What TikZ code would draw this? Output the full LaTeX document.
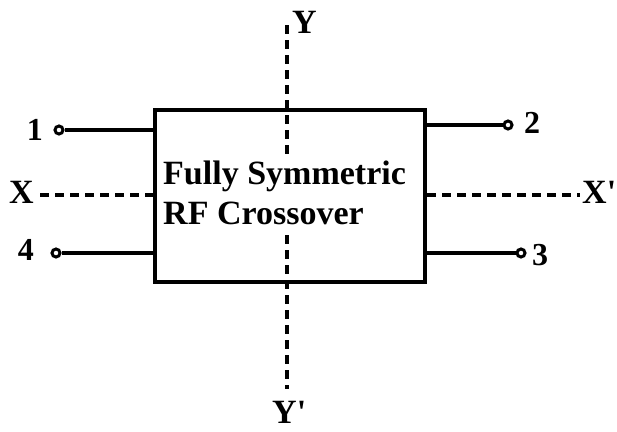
\documentclass[tikz,border=0pt]{standalone}
\usepackage{fontspec}
\setmainfont{Liberation Serif}
\usetikzlibrary{positioning}
\tikzset{
  axis/.style={line width=3.8pt, dash pattern=on 9pt off 6pt},
  lead/.style={line width=3.8pt},
  port/.style={circle, draw, line width=3pt, fill=white, inner sep=0pt, minimum size=8pt},
  portlabel/.style={font=\fontsize{32}{32}\selectfont\bfseries, inner sep=0pt},
  axislabel/.style={font=\fontsize{34}{34}\selectfont\bfseries, inner sep=0pt},
}
\begin{document}
\begin{tikzpicture}[x=1pt,y=-1pt]
  \useasboundingbox (0,0) rectangle (617,431);
  % vertical symmetry axis
  \coordinate (ytop) at (287,25); \coordinate (ybot) at (287,389);
  \draw[axis] (ytop) -- (ybot);
  \node[axislabel, anchor=base west] (ylab) at (292,33) {Y};
  \node[axislabel, anchor=base west] (yplab) at (272,423) {Y\textquotesingle};
  % crossover block
  \node[draw, line width=4pt, minimum width=270pt, minimum height=172pt, inner sep=0pt] (box) at (290,196) {};
  \node[anchor=north west, align=left, fill=white, inner sep=4pt,
        font=\fontsize{34}{40}\selectfont\bfseries] (name) at (159,157) {Fully Symmetric\\RF Crossover};
  % horizontal symmetry axis
  \coordinate (xleft) at (40,195); \coordinate (xright) at (580,195);
  \draw[axis] (xleft) -- (xleft -| box.west);
  \draw[axis] (xright -| box.east) -- (xright);
  \node[axislabel, anchor=base east] (xlab) at (34,203) {X};
  \node[axislabel, anchor=base west] (xplab) at (582,203) {X\textquotesingle};
  % ports
  \node[port] (p1) at (59,130) {};
  \node[port] (p2) at (508,125) {};
  \node[port] (p3) at (521,253) {};
  \node[port] (p4) at (56,253) {};
  \draw[lead] (p1) -- (p1 -| box.west);
  \draw[lead] (p2) -- (p2 -| box.east);
  \draw[lead] (p3) -- (p3 -| box.east);
  \draw[lead] (p4) -- (p4 -| box.west);
  \node[portlabel, anchor=base east] (n1) at (43,140) {1};
  \node[portlabel, anchor=base west] (n2) at (524,133) {2};
  \node[portlabel, anchor=base west] (n3) at (532,265) {3};
  \node[portlabel, anchor=base east] (n4) at (34,260) {4};
\end{tikzpicture}
\end{document}
